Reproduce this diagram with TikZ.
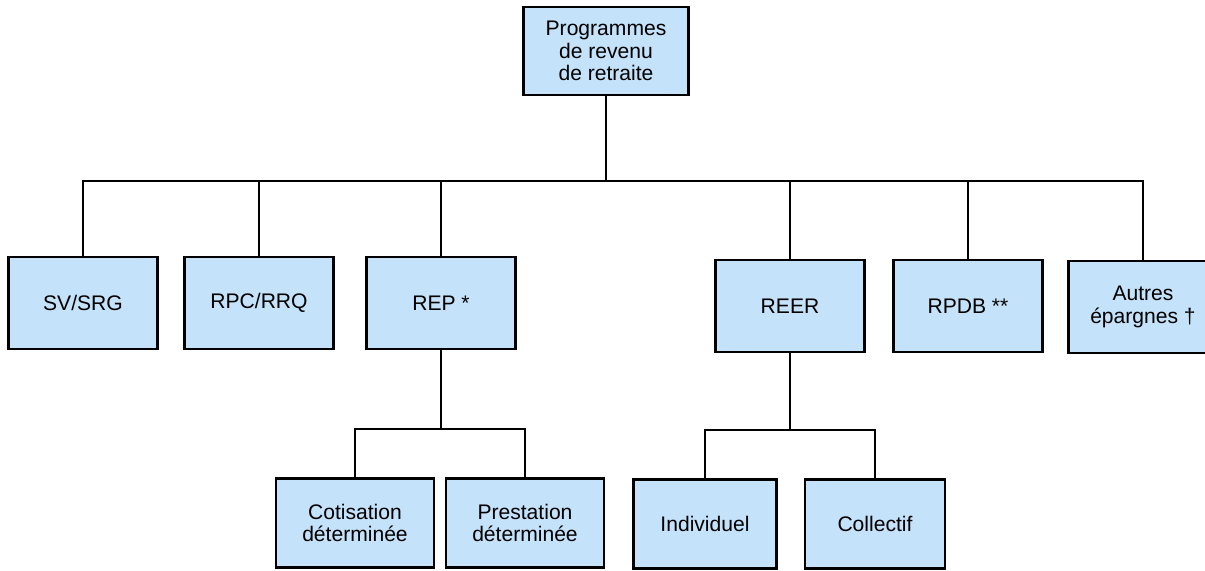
\documentclass[tikz,border=0pt]{standalone}
\usepackage{fontspec}
\setmainfont{Liberation Sans}
\usetikzlibrary{positioning}
\definecolor{boxblue}{RGB}{196,226,250}
\tikzset
{
	planbox/.style = {rectangle, draw=black, line width=1.3pt, fill=boxblue, align=center, minimum width=2.98cm, minimum height=1.84cm, font=\fontsize{12}{13}\selectfont},
	topbox/.style  = {planbox, minimum width=3.3cm, minimum height=1.76cm},
	leafbox/.style = {planbox, minimum width=3.16cm, minimum height=1.78cm},
	link/.style    = {draw=black, line width=0.9pt}
}

\begin{document}
\begin{tikzpicture}[x=0.02cm, y=-0.02cm]
\clip (0,0) rectangle (1205,571);
\node[topbox] (prog) at (606,51) {Programmes\\de revenu\\de retraite};
% first level
\node[planbox] (svsrg) at (83,303) {SV/SRG};
\node[planbox] (rpc) at (259,303) {RPC/RRQ};
\node[planbox] (rep) at (441,303) {REP *};
\node[planbox] (reer) at (790,306) {REER};
\node[planbox] (rpdb) at (968,306) {RPDB **};
\node[planbox] (autres) at (1143,307) {Autres\\épargnes \textdagger};
% second level
\node[leafbox] (cotis) at (355,523) {Cotisation\\déterminée};
\node[leafbox] (prest) at (525,523) {Prestation\\déterminée};
\node[leafbox, minimum width=2.86cm] (indiv) at (705,524) {Individuel};
\node[leafbox, minimum width=2.8cm] (collec) at (875,524) {Collectif};
% links
\coordinate (bus) at (606,181);
\draw[link] (prog.south) -- (prog.south |- bus);
\draw[link] (svsrg.north) |- (bus) -| (autres.north);
\foreach \n in {rpc,rep,reer,rpdb}
	\draw[link] (\n.north) -- (\n.north |- bus);
\coordinate (repbus) at (441,429);
\draw[link] (rep.south) -- (repbus);
\draw[link] (cotis.north) |- (repbus) -| (prest.north);
\coordinate (reerbus) at (790,430);
\draw[link] (reer.south) -- (reerbus);
\draw[link] (indiv.north) |- (reerbus) -| (collec.north);
\end{tikzpicture}
\end{document}
